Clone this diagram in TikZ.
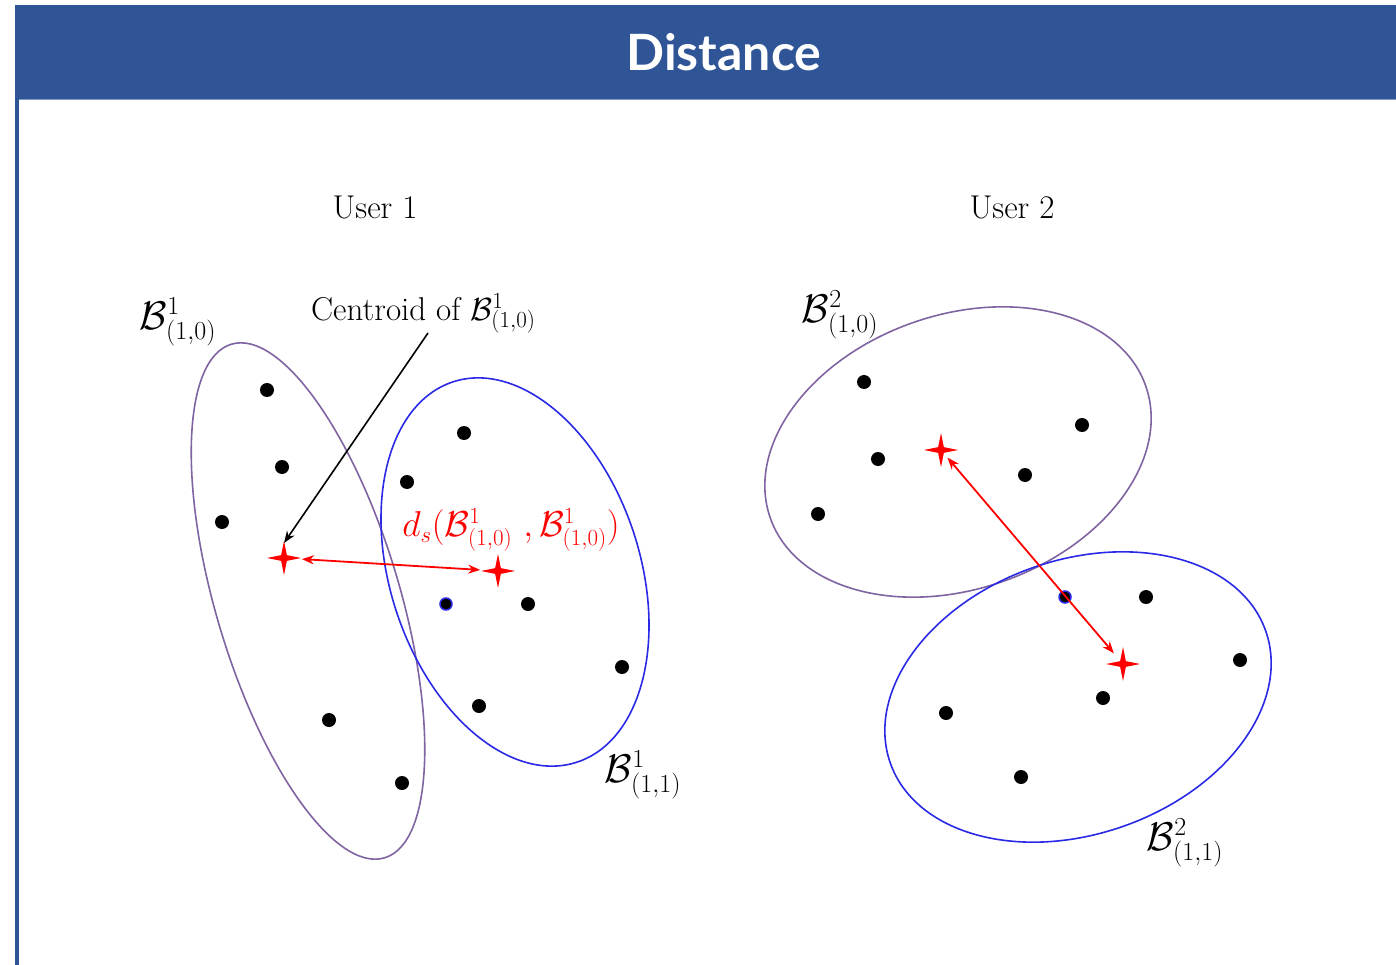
\RequirePackage{fix-cm}
\documentclass[tikz,border=0pt]{standalone}
\usepackage{fontspec}
\newfontfamily\headfont{Lato}
\usetikzlibrary{shapes.geometric,arrows.meta}
\DeclareMathSizes{33}{32}{23}{17}
\DeclareMathSizes{36}{36}{23}{17}
\DeclareMathSizes{40}{40}{26}{20}
\definecolor{hdr}{HTML}{2F5597}
\definecolor{hdrl}{HTML}{7F9BCB}
\definecolor{epurple}{HTML}{8064A2}
\definecolor{eblue}{HTML}{2A2AE6}
\newcommand{\bigsz}{\fontsize{40}{44}\selectfont}
\newcommand{\midsz}{\fontsize{36}{40}\selectfont}
\begin{document}
\begin{tikzpicture}[x=1pt,y=-1pt,
  dot/.style={circle,fill=black,inner sep=0,minimum size=14pt},
  bdot/.style={dot,draw=eblue,line width=1.5pt,minimum size=12pt},
  cstar/.style={star,star points=4,star point ratio=4.2,fill=red,inner sep=0,minimum size=34pt},
  ell/.style={ellipse,draw,line width=1.6pt,inner sep=0},
  lbl/.style={font=\fontsize{33}{38}\selectfont,inner sep=0},
  mlbl/.style={font=\bigsz,inner sep=0},
  redarrow/.style={red,line width=1.8pt,{Stealth[length=12pt,width=9pt]}-{Stealth[length=12pt,width=9pt]}},
]
\useasboundingbox (0,0) rectangle (1396,965);
\fill[white] (0,0) rectangle (1396,965);
% header
\fill[hdr] (15,5) rectangle (1396,99);
\draw[hdrl,line width=0.8pt] (15,99) -- (1396,99);
\fill[hdr] (15,99) rectangle (19,965);
\node[font=\headfont\bfseries\fontsize{50}{60}\selectfont,text=white] (title) at (724,52) {Distance};

% ellipses
\node[ell,draw=epurple,minimum width=536pt,minimum height=184pt,rotate=-73.4] (e1) at (308,601) {};
\node[ell,draw=eblue,minimum width=400pt,minimum height=250pt,rotate=-72] (e2) at (515,572) {};
\node[ell,draw=epurple,minimum width=398pt,minimum height=274pt,rotate=19.4] (e3) at (958,452) {};
\node[ell,draw=eblue,minimum width=398pt,minimum height=274pt,rotate=19.4] (e4) at (1078,697) {};

% dots
\foreach \p [count=\i] in {(267,390),(282,467),(222,522),(329,720),(402,783),
  (464,433),(407,482),(528,604),(622,667),(479,706),
  (864,382),(878,459),(818,514),(1082,425),(1025,475),
  (1146,597),(1240,660),(1103,698),(946,713),(1021,777)}
  \node[dot] (d\i) at \p {};
\node[bdot] (b1) at (446,604) {};
\node[bdot] (b2) at (1065,597) {};

% centroids
\node[cstar] (s1) at (284,558) {};
\node[cstar] (s2) at (498,571) {};
\node[cstar] (s3) at (941,450) {};
\node[cstar] (s4) at (1123,664) {};

% labels
\node[lbl] (u1) at (375,207) {User 1};
\node[lbl] (u2) at (1012,207) {User 2};
\node[mlbl] (l1) at (178,322) {$\mathcal{B}^1_{(1,0)}$};
\node[lbl,anchor=base west] (cen) at (311,320) {Centroid of $\mathcal{B}^1_{(1,0)}$};
\node[font=\midsz,inner sep=0,text=red] (ds) at (511,530) {$d_s\biggl(\mathcal{B}^1_{(1,0)}\ ,\mathcal{B}^1_{(1,0)}\biggr)$};
\node[mlbl] (l2) at (643,775) {$\mathcal{B}^1_{(1,1)}$};
\node[mlbl] (l3) at (840,315) {$\mathcal{B}^2_{(1,0)}$};
\node[mlbl] (l4) at (1185,843) {$\mathcal{B}^2_{(1,1)}$};

% arrows
\coordinate (ca) at (428,333);
\draw[line width=1.6pt,-{Stealth[length=12pt,width=9pt]}] (ca) -- ([yshift=-3pt]s1.north);
\draw[redarrow,shorten <=4pt,shorten >=4pt] (s1) -- (s2);
\draw[redarrow,shorten <=10pt,shorten >=14pt] (s3.center) -- (s4.center);
\end{tikzpicture}
\end{document}
